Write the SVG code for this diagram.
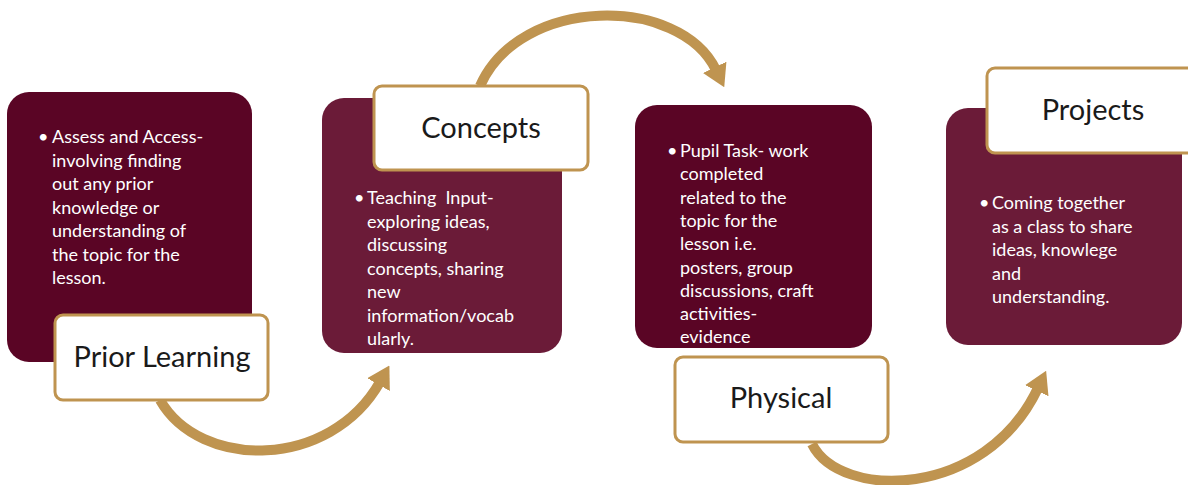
<svg xmlns="http://www.w3.org/2000/svg" width="1188" height="485" viewBox="0 0 1188 485">
<style>
.bg{fill:#ffffff}
.dark{fill:#5a0525}
.mid{fill:#6b1b38}
.lbl{fill:#ffffff;stroke:#bf9450;stroke-width:3}
.body{font-family:Lato,"Open Sans","Liberation Sans",sans-serif;font-size:18px;fill:#ffffff}
.title{font-family:Lato,"Open Sans","Liberation Sans",sans-serif;font-size:29px;fill:#1a1a1a;text-anchor:middle}
.arc{fill:none;stroke:#bf9450;stroke-width:10}
</style>
<defs>
<marker id="head" markerUnits="userSpaceOnUse" viewBox="0 0 22 26" refX="3" refY="13" markerWidth="22" markerHeight="26" orient="auto">
<path d="M0,0 L22,13 L0,26 z" fill="#bf9450"/>
</marker>
</defs>
<rect class="bg" x="0" y="0" width="1188" height="485"/>
<g id="connectors">
<path class="arc" d="M160,400 C200,470 330,470 380,382" marker-end="url(#head)"/>
<path class="arc" d="M480,86 C520,-5 680,-5 716,70" marker-end="url(#head)"/>
<path class="arc" d="M812,444 C840,500 985,500 1038,388" marker-end="url(#head)"/>
</g>
<g id="prior-learning">
<rect class="dark" x="7" y="92" width="245" height="270" rx="22"/>
<text class="body"><tspan x="38" y="143">•</tspan><tspan x="52" y="143">Assess and Access-</tspan><tspan x="52" y="166.5">involving finding</tspan><tspan x="52" y="190">out any prior</tspan><tspan x="52" y="213.5">knowledge or</tspan><tspan x="52" y="237">understanding of</tspan><tspan x="52" y="260.5">the topic for the</tspan><tspan x="52" y="284">lesson.</tspan></text>
<rect class="lbl" x="55" y="315" width="213" height="85" rx="8"/>
<text class="title" x="162" y="367">Prior Learning</text>
</g>
<g id="concepts">
<rect class="mid" x="322" y="98" width="240" height="255" rx="22"/>
<text class="body"><tspan x="354" y="204">•</tspan><tspan x="367" y="204">Teaching&#160; Input-</tspan><tspan x="367" y="227.5">exploring ideas,</tspan><tspan x="367" y="251">discussing</tspan><tspan x="367" y="274.5">concepts, sharing</tspan><tspan x="367" y="298">new</tspan><tspan x="367" y="321.5">information/vocab</tspan><tspan x="367" y="345">ularly.</tspan></text>
<rect class="lbl" x="374" y="86" width="214" height="84" rx="8"/>
<text class="title" x="481" y="138">Concepts</text>
</g>
<g id="physical">
<rect class="dark" x="635" y="105" width="237" height="243" rx="22"/>
<text class="body"><tspan x="667" y="157">•</tspan><tspan x="680" y="157">Pupil Task- work</tspan><tspan x="680" y="180.3">completed</tspan><tspan x="680" y="203.6">related to the</tspan><tspan x="680" y="226.9">topic for the</tspan><tspan x="680" y="250.2">lesson i.e.</tspan><tspan x="680" y="273.5">posters, group</tspan><tspan x="680" y="296.8">discussions, craft</tspan><tspan x="680" y="320.1">activities-</tspan><tspan x="680" y="343.4">evidence</tspan></text>
<rect class="lbl" x="675" y="357" width="213" height="85" rx="8"/>
<text class="title" x="781" y="408">Physical</text>
</g>
<g id="projects">
<rect class="mid" x="946" y="108" width="236" height="237" rx="22"/>
<text class="body"><tspan x="979" y="209">•</tspan><tspan x="992" y="209">Coming together</tspan><tspan x="992" y="232.5">as a class to share</tspan><tspan x="992" y="256">ideas, knowlege</tspan><tspan x="992" y="279.5">and</tspan><tspan x="992" y="303">understanding.</tspan></text>
<rect class="lbl" x="987" y="68" width="214" height="85" rx="8"/>
<text class="title" x="1093" y="120">Projects</text>
</g>
</svg>
